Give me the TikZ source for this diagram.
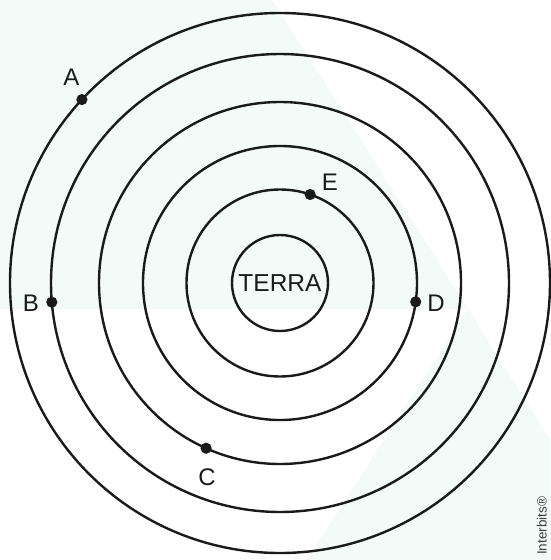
\documentclass[tikz,border=0pt]{standalone}
\usepackage{fontspec}
\setmainfont{Liberation Sans}
\usetikzlibrary{calc}
\definecolor{mint}{RGB}{242,251,248}
\definecolor{ink}{RGB}{26,26,26}
\begin{document}
\begin{tikzpicture}[x=1pt,y=-1pt,
  orbit/.style={draw=ink,line width=2.4pt},
  dot/.style={circle,fill=ink,inner sep=0pt,minimum size=11.2pt},
  lbl/.style={font=\fontsize{24}{24}\selectfont,text=ink,inner sep=0pt}]
\fill[white] (0,0) rectangle (550,560);
\fill[mint] (0,0) -- (272,0) -- (468,309) -- (0,309) -- cycle;
\fill[mint] (468,309) -- (550,440) -- (550,560) -- (307,560) -- cycle;
\useasboundingbox (0,0) rectangle (550,560);
\coordinate (O) at (280,283);
\foreach \r in {93.5,137,181,229,270} \draw[orbit] (O) circle[radius=\r];
\node[circle,draw=ink,line width=2.4pt,minimum size=96pt,inner sep=0pt,
  font=\fontsize{24.5}{24.5}\selectfont,text=ink] (terra) at (O) {TERRA};
\node[dot] (A) at ($(O)+(-137.2:270)$) {};
\node[dot] (B) at ($(O)+(-184.8:229)$) {};
\node[dot] (C) at ($(O)+(-245.9:181)$) {};
\node[dot] (D) at ($(O)+(-352.1:137)$) {};
\node[dot] (E) at ($(O)+(-71.2:93.5)$) {};
\node[lbl] (lA) at (71.5,77) {A};
\node[lbl] (lB) at (31,303) {B};
\node[lbl] (lC) at (207,477) {C};
\node[lbl] (lD) at (436,303) {D};
\node[lbl] (lE) at (330,182) {E};
\node[rotate=90,anchor=south west,font=\fontsize{13.5}{13.5}\selectfont,text=ink!85,inner sep=0pt] (wm) at (547,555) {Interbits®};
\end{tikzpicture}
\end{document}
